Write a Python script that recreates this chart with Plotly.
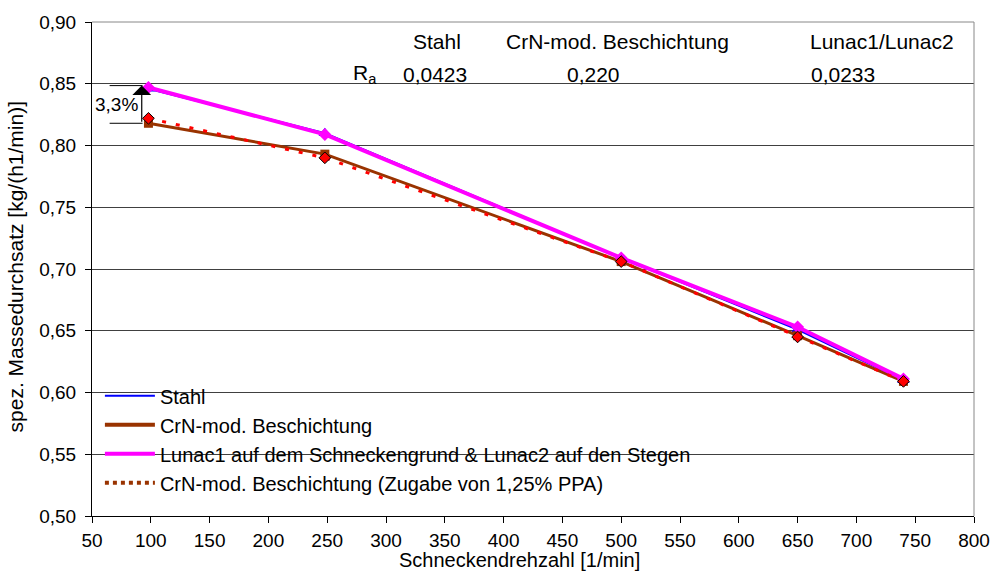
import plotly.graph_objects as go

# Schneckendrehzahl [1/min]
rpm = [98, 248, 500, 650, 740]

# spez. Massedurchsatz [kg/(h1/min)]
stahl = [0.846, 0.810, 0.709, 0.651, 0.610]
crn = [0.818, 0.793, 0.706, 0.646, 0.609]
lunac = [0.847, 0.809, 0.709, 0.653, 0.611]
crn_ppa = [0.822, 0.790, 0.706, 0.645, 0.609]

series_names = [
    "Stahl",
    "CrN-mod. Beschichtung",
    "Lunac1 auf dem Schneckengrund & Lunac2 auf den Stegen",
    "CrN-mod. Beschichtung (Zugabe von 1,25% PPA)",
]

# Rauheitstabelle
ra_header = ["Stahl", "CrN-mod. Beschichtung", "Lunac1/Lunac2"]
ra_values = ["0,0423", "0,220", "0,0233"]

FONT = "Arial, Liberation Sans, sans-serif"
W, H = 1002, 571
L, R, T, B = 92, 17, 21, 55
PW, PH = W - L - R, H - T - B


def px(x):
    return (x - L) / PW


def py(y):
    return (H - B - y) / PH


def label(x, y, text, size=21, angle=0):
    fig.add_annotation(x=px(x), y=py(y), xref="paper", yref="paper",
                       xanchor="center", yanchor="middle", text=text,
                       textangle=angle, showarrow=False,
                       font=dict(size=size, color="black", family=FONT))


fig = go.Figure()

fig.add_trace(go.Scatter(
    x=rpm, y=stahl, mode="lines+markers", showlegend=False,
    line=dict(color="#0000FF", width=2),
    marker=dict(symbol="triangle-up", size=11, color="#0000FF"),
))
fig.add_trace(go.Scatter(
    x=rpm, y=crn, mode="lines+markers", showlegend=False,
    line=dict(color="#993300", width=3),
    marker=dict(symbol="square", size=9, color="#993300"),
))
fig.add_trace(go.Scatter(
    x=rpm, y=lunac, mode="lines+markers", showlegend=False,
    line=dict(color="#FF00FF", width=4),
    marker=dict(symbol="diamond", size=10, color="#FF00FF"),
))
fig.add_trace(go.Scatter(
    x=rpm, y=crn_ppa, mode="lines+markers", showlegend=False,
    line=dict(color="#FF0000", width=3, dash="4px,10px"),
    marker=dict(symbol="diamond", size=9, color="#FF0000",
                line=dict(color="#000000", width=1)),
))

# Legendeneinträge
legend_styles = [
    dict(color="#0000FF", width=2),
    dict(color="#993300", width=4),
    dict(color="#FF00FF", width=4),
    dict(color="#993300", width=4, dash="dot"),
]
for name, style in zip(series_names, legend_styles):
    fig.add_trace(go.Scatter(x=[None], y=[None], mode="lines", name=name,
                             line=style))

# 3,3% Abstand bei 100 1/min
fig.add_shape(type="line", x0=65, x1=93, y0=stahl[0] + 0.0025, y1=stahl[0] + 0.0025,
              line=dict(color="black", width=1))
fig.add_shape(type="line", x0=65, x1=93, y0=crn[0], y1=crn[0],
              line=dict(color="black", width=1))
fig.add_annotation(x=92.3, y=stahl[0] + 0.0025, ax=92.3, ay=crn[0],
                   xref="x", yref="y", axref="x", ayref="y",
                   showarrow=True, arrowhead=1, arrowsize=2.6, arrowwidth=1.2,
                   arrowcolor="black", text="")
fig.add_annotation(x=71, y=0.8335, xref="x", yref="y", text="3,3%",
                   xanchor="center", yanchor="middle",
                   showarrow=False, font=dict(size=19, color="black", family=FONT))

# Rahmen oben/rechts
fig.add_shape(type="line", xref="paper", yref="paper", x0=1, x1=1, y0=0, y1=1,
              line=dict(color="#888888", width=1))
fig.add_shape(type="line", xref="paper", yref="paper", x0=0, x1=1, y0=1, y1=1,
              line=dict(color="#888888", width=1))

# weiße Flächen hinter R_a und hinter der Legende
fig.add_shape(type="rect", xref="paper", yref="paper", x0=px(343), x1=px(401),
              y0=py(95), y1=py(55), fillcolor="white", line=dict(width=0),
              layer="between")
fig.add_shape(type="rect", xref="paper", yref="paper", x0=px(93), x1=px(775),
              y0=py(512), y1=py(383), fillcolor="white", line=dict(width=0),
              layer="between")

# Tabelle oben
for text, cx in zip(ra_header, [441, 624, 892]):
    label(cx, 41, text)
for text, cx in zip(ra_values, [439, 600, 852]):
    label(cx, 74, text)
label(368, 73, "R<sub>a</sub>")

# Achsentitel
label(525, 560, "Schneckendrehzahl [1/min]", size=20)
label(15, 266, "spez. Massedurchsatz [kg/(h1/min)]", size=21, angle=-90)

fig.update_layout(
    width=W, height=H,
    margin=dict(l=L, r=R, t=T, b=B, pad=0),
    paper_bgcolor="white", plot_bgcolor="white",
    separators=",.",
    font=dict(family=FONT, size=19, color="black"),
    legend=dict(
        x=px(100), y=py(376), xanchor="left", yanchor="top",
        bgcolor="rgba(0,0,0,0)", borderwidth=0,
        font=dict(size=20, color="black", family=FONT),
        itemwidth=50, tracegroupgap=0,
    ),
    xaxis=dict(
        range=[50, 800], dtick=50, tick0=50,
        showgrid=False, zeroline=False,
        showline=True, linecolor="black", linewidth=1,
        ticks="outside", ticklen=6, tickcolor="black",
        ticklabelstandoff=1,
        tickfont=dict(size=19),
    ),
    yaxis=dict(
        range=[0.5, 0.9], dtick=0.05, tick0=0.5, tickformat=".2f",
        showgrid=True, gridcolor="#404040", gridwidth=1, zeroline=False,
        showline=True, linecolor="black", linewidth=1,
        ticks="outside", ticklen=6, tickcolor="black",
        ticklabelstandoff=5,
        tickfont=dict(size=19),
    ),
)

fig.write_html("out.html")
